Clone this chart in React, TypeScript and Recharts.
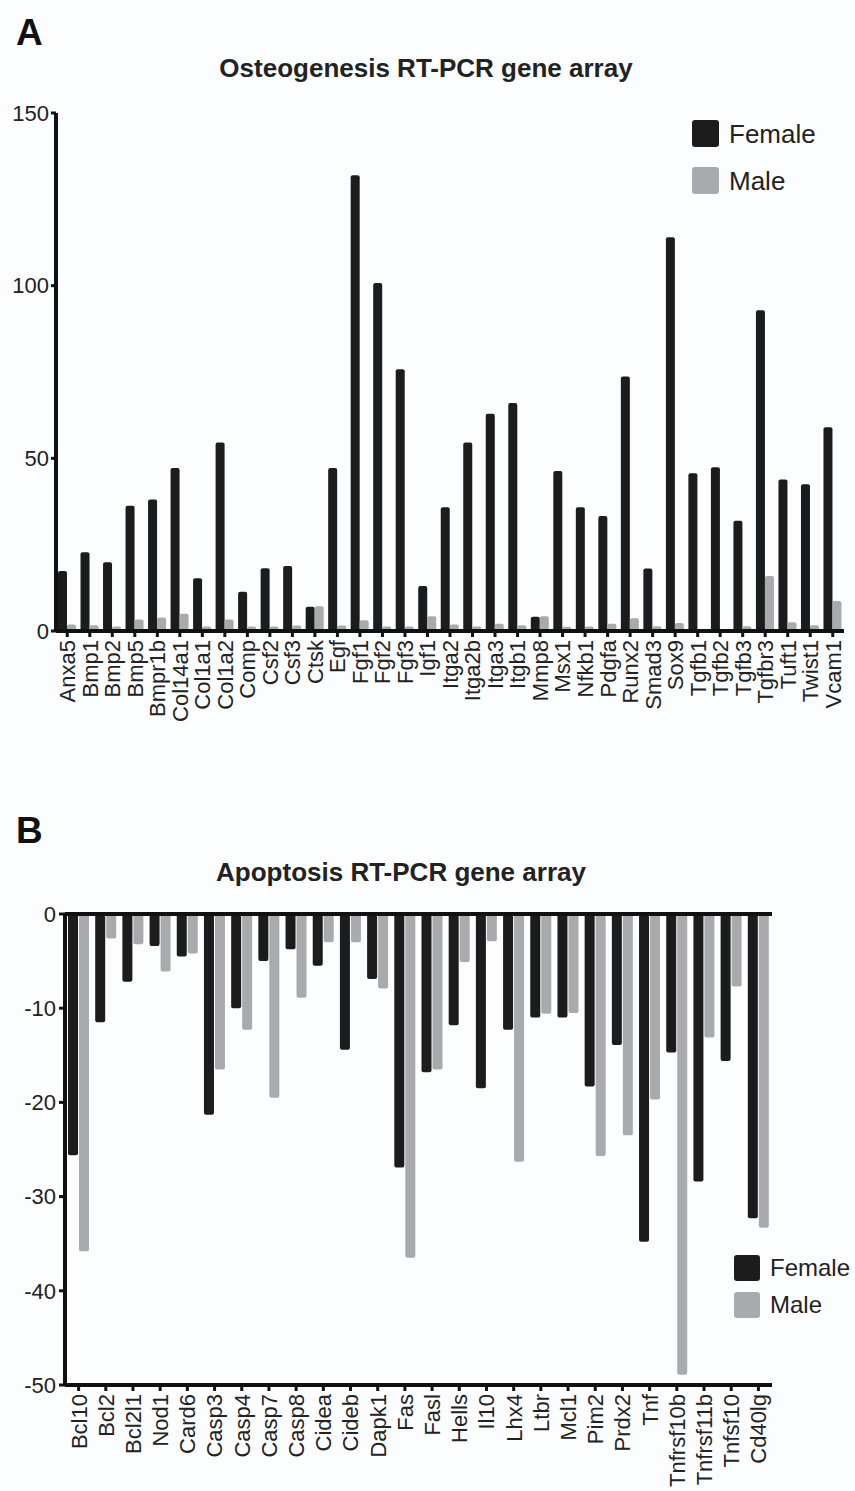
import React from "react";
import { BarChart, Bar, XAxis, YAxis, ReferenceLine } from "recharts";

const FONT = '"Liberation Sans", Arial, Helvetica, sans-serif';
const FEMALE_COLOR = "#1c1c1c";
const MALE_COLOR = "#a9aaae";
const INK = "#222";

// Panel A: osteogenesis
const osteoGenes = [
    "Anxa5", "Bmp1", "Bmp2", "Bmp5", "Bmpr1b", "Col14a1", "Col1a1", "Col1a2", "Comp", "Csf2",
    "Csf3", "Ctsk", "Egf", "Fgf1", "Fgf2", "Fgf3", "Igf1", "Itga2", "Itga2b", "Itga3",
    "Itgb1", "Mmp8", "Msx1", "Nfkb1", "Pdgfa", "Runx2", "Smad3", "Sox9", "Tgfb1", "Tgfb2",
    "Tgfb3", "Tgfbr3", "Tuft1", "Twist1", "Vcam1",
];
const osteoFemale = [
    17.4, 22.8, 19.9, 36.3, 38.1, 47.2, 15.3, 54.6, 11.4, 18.2,
    18.8, 7.0, 47.2, 132, 100.8, 75.8, 13.0, 35.8, 54.6, 62.9,
    66, 4.1, 46.3, 35.8, 33.3, 73.7, 18.1, 114, 45.7, 47.4,
    31.9, 92.9, 43.9, 42.5, 59,
];
const osteoMale = [
    1.9, 1.7, 1.3, 3.3, 3.9, 5.0, 1.3, 3.3, 1.3, 1.3,
    1.6, 7.2, 1.6, 3.1, 1.3, 1.3, 4.3, 1.9, 1.3, 2.1,
    1.7, 4.3, 1.2, 1.3, 2.1, 3.7, 1.4, 2.3, 0.3, 0.3,
    1.4, 15.9, 2.5, 1.7, 8.7,
];
const osteoTicks = [0, 50, 100, 150];

// Panel B: apoptosis
const apoGenes = [
    "Bcl10", "Bcl2", "Bcl2l1", "Nod1", "Card6", "Casp3", "Casp4", "Casp7", "Casp8", "Cidea",
    "Cideb", "Dapk1", "Fas", "Fasl", "Hells", "Il10", "Lhx4", "Ltbr", "Mcl1", "Pim2",
    "Prdx2", "Tnf", "Tnfrsf10b", "Tnfrsf11b", "Tnfsf10", "Cd40lg",
];
const apoFemale = [
    -25.6, -11.5, -7.2, -3.4, -4.5, -21.3, -10, -5, -3.75, -5.5,
    -14.4, -6.9, -26.9, -16.8, -11.8, -18.5, -12.3, -11, -11, -18.3,
    -13.9, -34.8, -14.7, -28.4, -15.6, -32.3,
];
const apoMale = [
    -35.8, -2.6, -3.2, -6.1, -4.2, -16.5, -12.3, -19.5, -8.9, -3,
    -3, -7.9, -36.5, -16.5, -5.1, -2.9, -26.3, -10.6, -10.5, -25.7,
    -23.5, -19.7, -48.9, -13.1, -7.7, -33.3,
];
const apoTicks = [0, -10, -20, -30, -40, -50];

const osteoData = osteoGenes.map((g, i) => ({ gene: g, female: osteoFemale[i], male: osteoMale[i] }));
const apoData = apoGenes.map((g, i) => ({ gene: g, female: apoFemale[i], male: apoMale[i] }));

// eslint-disable-next-line @typescript-eslint/no-explicit-any
const VerticalTick = ({ x, y, payload }: any) => (
    <text
        x={x}
        y={y}
        transform={`rotate(-90, ${x}, ${y})`}
        textAnchor="end"
        dy="0.36em"
        fontSize={22}
        fontFamily={FONT}
        fill={INK}
    >
        {payload.value}
    </text>
);

const axisLine = { stroke: "#111", strokeWidth: 4 };
const tickLine = { stroke: "#111", strokeWidth: 3 };
const yTick = { fontSize: 22, fill: INK, fontFamily: FONT };

function LegendBox({ left, top, box, gap, fontSize }: { left: number; top: number; box: number; gap: number; fontSize: number }) {
    const row = (color: string, label: string, dy: number) => (
        <div style={{ position: "absolute", left: 0, top: dy, display: "flex", alignItems: "center", whiteSpace: "nowrap" }}>
            <div style={{ width: box, height: box, borderRadius: 3, background: color }} />
            <span style={{ marginLeft: 10, fontSize, fontFamily: FONT, color: INK, lineHeight: 1 }}>{label}</span>
        </div>
    );
    return (
        <div style={{ position: "absolute", left, top }}>
            {row(FEMALE_COLOR, "Female", 0)}
            {row(MALE_COLOR, "Male", gap)}
        </div>
    );
}

const panelLetter: React.CSSProperties = {
    position: "absolute", fontSize: 37, fontWeight: 700, fontFamily: FONT, color: "#111", lineHeight: 1,
};
const titleStyle: React.CSSProperties = {
    position: "absolute", fontSize: 26, fontWeight: 700, fontFamily: FONT, color: INK,
    transform: "translateX(-50%)", whiteSpace: "nowrap", lineHeight: 1,
};

export default function App() {
    return (
        <div style={{ position: "absolute", left: 0, top: 0, width: 855, height: 1491, overflow: "hidden", background: "#fcfdfe" }}>
            <div style={{ ...panelLetter, left: 16, top: 14 }}>A</div>
            <div style={{ ...titleStyle, left: 426, top: 55 }}>Osteogenesis RT-PCR gene array</div>
            <div style={{ position: "absolute", left: 0, top: 0 }}>
                <BarChart width={855} height={760} data={osteoData} margin={{ top: 113, right: 11, left: 0, bottom: 0 }} barGap={0}>
                    <XAxis
                        dataKey="gene"
                        interval={0}
                        height={129}
                        tick={<VerticalTick />}
                        axisLine={axisLine}
                        tickLine={tickLine}
                        tickSize={6}
                        tickMargin={3}
                    />
                    <YAxis
                        domain={[0, 150]}
                        ticks={osteoTicks}
                        width={56}
                        tick={yTick}
                        axisLine={axisLine}
                        tickLine={tickLine}
                        tickSize={5}
                        tickMargin={2}
                    />
                    <Bar dataKey="female" fill={FEMALE_COLOR} barSize={9} radius={2} isAnimationActive={false} />
                    <Bar dataKey="male" fill={MALE_COLOR} barSize={9} radius={2} isAnimationActive={false} />
                </BarChart>
            </div>
            <LegendBox left={692} top={120} box={27} gap={47} fontSize={26} />

            <div style={{ ...panelLetter, left: 16, top: 812 }}>B</div>
            <div style={{ ...titleStyle, left: 401, top: 859 }}>Apoptosis RT-PCR gene array</div>
            <div style={{ position: "absolute", left: 0, top: 800 }}>
                <BarChart width={855} height={691} data={apoData} margin={{ top: 114, right: 83, left: 0, bottom: 0 }} barGap={1}>
                    <XAxis
                        dataKey="gene"
                        interval={0}
                        height={106}
                        tick={<VerticalTick />}
                        axisLine={axisLine}
                        tickLine={tickLine}
                        tickSize={6}
                        tickMargin={3}
                    />
                    <YAxis
                        domain={[-50, 0]}
                        ticks={apoTicks}
                        width={65}
                        tick={yTick}
                        axisLine={axisLine}
                        tickLine={tickLine}
                        tickSize={6}
                        tickMargin={3}
                    />
                    <ReferenceLine y={0} stroke="#111" strokeWidth={4} />
                    <Bar dataKey="female" fill={FEMALE_COLOR} barSize={10} radius={2} isAnimationActive={false} />
                    <Bar dataKey="male" fill={MALE_COLOR} barSize={10} radius={2} isAnimationActive={false} />
                </BarChart>
            </div>
            <LegendBox left={734} top={1255} box={26} gap={37} fontSize={24} />
        </div>
    );
}
